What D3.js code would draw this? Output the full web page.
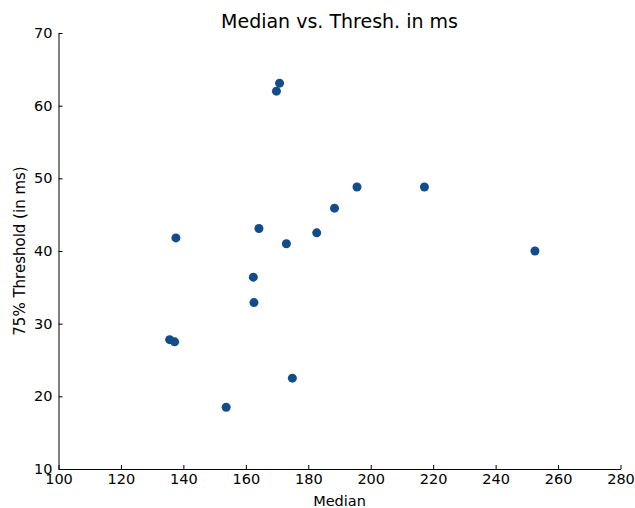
<!DOCTYPE html>
<html>
<head>
<meta charset="utf-8">
<script src="https://cdn.jsdelivr.net/npm/d3@7"></script>
<style>
  body { margin: 0; background: #fff; }
  svg { font-family: "DejaVu Sans", sans-serif; }
</style>
</head>
<body>
<div id="chart"></div>
<script>
var medians = [170.8, 169.8, 137.6, 164.2, 173.0, 182.7, 188.4, 195.6, 217.2, 252.6, 162.4, 162.6, 135.6, 137.2, 174.9, 153.7];
var thresholds = [63.1, 62.0, 41.8, 43.1, 41.0, 42.5, 45.9, 48.8, 48.8, 40.0, 36.4, 32.9, 27.8, 27.5, 22.5, 18.5];
var xTicks = [100, 120, 140, 160, 180, 200, 220, 240, 260, 280];
var yTicks = [10, 20, 30, 40, 50, 60, 70];

var width = 635, height = 508,
    margin = { top: 33, right: 14.5, bottom: 39, left: 58.5 };

var svg = d3.select("#chart").append("svg")
    .attr("width", width)
    .attr("height", height);

var x = d3.scaleLinear().domain([100, 280]).range([margin.left, width - margin.right]),
    y = d3.scaleLinear().domain([10, 70]).range([height - margin.bottom, margin.top]);

var xAxis = svg.append("g")
    .attr("transform", "translate(0," + (height - margin.bottom) + ")")
    .call(d3.axisBottom(x).tickValues(xTicks).tickSizeInner(-4).tickSizeOuter(0).tickPadding(5));

var yAxis = svg.append("g")
    .attr("transform", "translate(" + margin.left + ",0)")
    .call(d3.axisLeft(y).tickValues(yTicks).tickSizeInner(-4).tickSizeOuter(0).tickPadding(6));

[xAxis, yAxis].forEach(function (g) {
    g.selectAll("text").attr("font-size", 14.5).attr("font-family", "DejaVu Sans").attr("fill", "#000");
    g.selectAll("line").attr("stroke", "#000");
    g.select(".domain").attr("stroke", "#000");
});

svg.append("g")
    .selectAll("circle")
    .data(medians)
    .enter()
    .append("circle")
    .attr("cx", function (d) { return x(d); })
    .attr("cy", function (d, i) { return y(thresholds[i]); })
    .attr("r", 4.5)
    .attr("fill", "#124d89");

svg.append("text")
    .attr("x", (margin.left + width - margin.right) / 2)
    .attr("y", 28)
    .attr("text-anchor", "middle")
    .attr("font-size", 19)
    .text("Median vs. Thresh. in ms");

svg.append("text")
    .attr("x", (margin.left + width - margin.right) / 2)
    .attr("y", 506)
    .attr("text-anchor", "middle")
    .attr("font-size", 14.5)
    .text("Median");

svg.append("text")
    .attr("transform", "translate(25," + ((margin.top + height - margin.bottom) / 2) + ") rotate(-90)")
    .attr("text-anchor", "middle")
    .attr("font-size", 15)
    .text("75% Threshold (in ms)");
</script>
</body>
</html>
